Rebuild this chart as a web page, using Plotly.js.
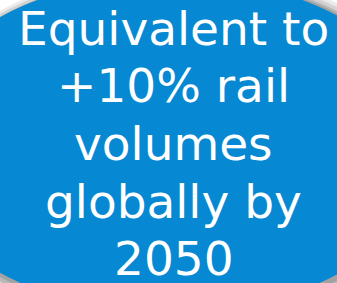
<!DOCTYPE html>
<html>
<head>
<meta charset="utf-8">
<script src="https://cdn.plot.ly/plotly-3.0.1.min.js"></script>
<style>html,body{margin:0;padding:0;background:#fff;overflow:hidden}#chart{width:337px;height:283px}</style>
</head>
<body>
<div id="chart"></div>
<script>
// Text content of the callout
const textLines = ["Equivalent to", "+10% rail", "volumes", "globally by", "2050"];

const W = 337, H = 283;
const cx = 170, cy = 145, rx = 262, ry = 168;
const lineTop = 28, lineStep = 57.7, textX = 173.5;

const shapes = [];
// soft shadow layers
[[14, 6, 0.08], [10, 5, 0.10], [6, 4, 0.12], [3, 2, 0.12]].forEach(([g, off, a]) => {
  shapes.push({type: 'circle', xref: 'x', yref: 'y',
    x0: cx - rx - g + off, x1: cx + rx + g + off, y0: cy - ry - g + off, y1: cy + ry + g + off,
    fillcolor: 'rgba(0,0,0,' + a + ')', line: {width: 0}, layer: 'below'});
});
shapes.push({type: 'circle', xref: 'x', yref: 'y',
  x0: cx - rx, x1: cx + rx, y0: cy - ry, y1: cy + ry,
  fillcolor: '#0688D2', line: {width: 0}, layer: 'below'});

const annotations = textLines.map((t, i) => ({
  text: t, x: textX, y: lineTop + i * lineStep, xref: 'x', yref: 'y',
  xanchor: 'center', yanchor: 'middle', showarrow: false,
  font: {family: 'DejaVu Sans', size: 47, color: '#ffffff'}
}));

Plotly.newPlot('chart', [], {
  width: W, height: H,
  margin: {l: 0, r: 0, t: 0, b: 0, pad: 0},
  paper_bgcolor: '#ffffff', plot_bgcolor: '#ffffff',
  xaxis: {range: [0, W], visible: false, fixedrange: true},
  yaxis: {range: [H, 0], visible: false, fixedrange: true},
  shapes: shapes, annotations: annotations, showlegend: false
}, {displayModeBar: false, staticPlot: true});
</script>
</body>
</html>
